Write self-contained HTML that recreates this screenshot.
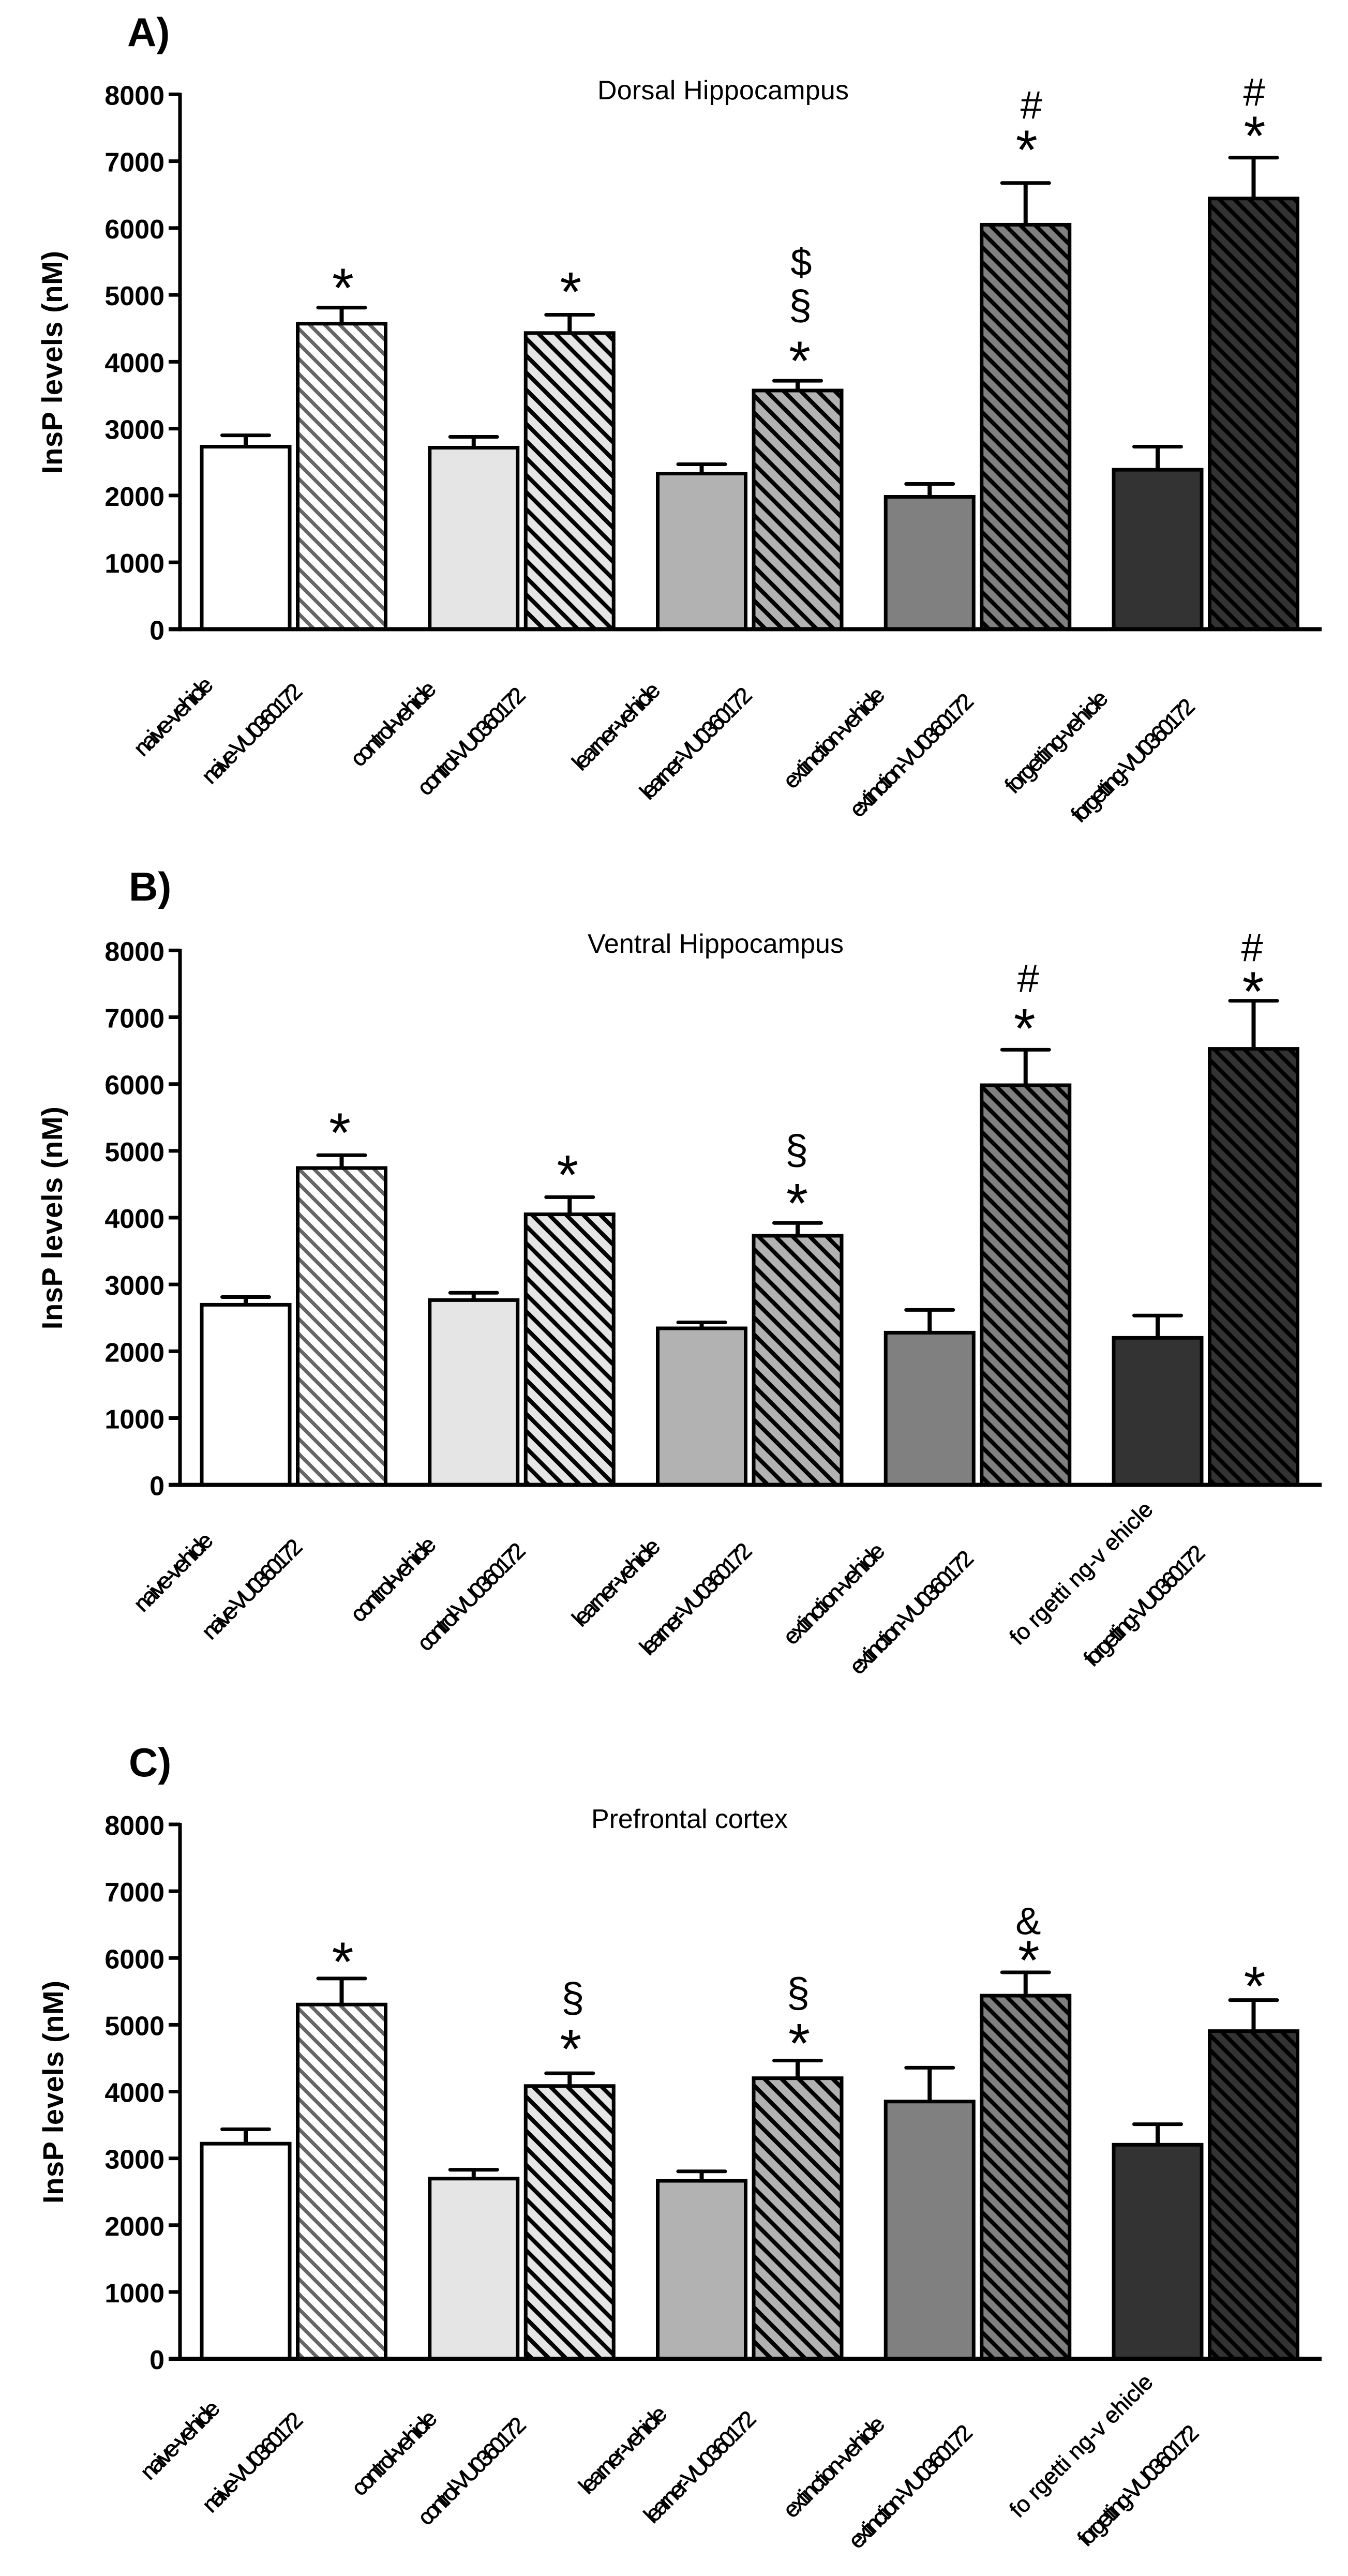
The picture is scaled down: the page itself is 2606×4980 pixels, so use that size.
<!DOCTYPE html>
<html lang="en">
<head>
<meta charset="utf-8">
<title>InsP levels by brain region</title>
<style>
  html, body { margin: 0; padding: 0; background: #fff; }
  svg { display: block; }
  text { font-family: "Liberation Sans", Arial, sans-serif; fill: #000; }
</style>
</head>
<body>
<svg id="figure" xmlns="http://www.w3.org/2000/svg" width="2606" height="4980" viewBox="0 0 2606 4980">
  <defs>
    <pattern id="hatch-0" patternUnits="userSpaceOnUse" width="29" height="29">
      <rect width="29" height="29" fill="#ffffff"/>
      <path d="M-6,-6 L35,35 M-35,-6 L6,35 M23,-6 L64,35" stroke="#666666" stroke-width="7"/>
    </pattern>
    <pattern id="hatch-1" patternUnits="userSpaceOnUse" width="33" height="33">
      <rect width="33" height="33" fill="#e5e5e5"/>
      <path d="M-6,-6 L39,39 M-39,-6 L6,39 M27,-6 L72,39" stroke="#000000" stroke-width="8"/>
    </pattern>
    <pattern id="hatch-2" patternUnits="userSpaceOnUse" width="33" height="33">
      <rect width="33" height="33" fill="#b2b2b2"/>
      <path d="M-6,-6 L39,39 M-39,-6 L6,39 M27,-6 L72,39" stroke="#000000" stroke-width="8"/>
    </pattern>
    <pattern id="hatch-3" patternUnits="userSpaceOnUse" width="29" height="29">
      <rect width="29" height="29" fill="#808080"/>
      <path d="M-6,-6 L35,35 M-35,-6 L6,35 M23,-6 L64,35" stroke="#000000" stroke-width="8"/>
    </pattern>
    <pattern id="hatch-4" patternUnits="userSpaceOnUse" width="29" height="29">
      <rect width="29" height="29" fill="#333333"/>
      <path d="M-6,-6 L35,35 M-35,-6 L6,35 M23,-6 L64,35" stroke="#000000" stroke-width="8"/>
    </pattern>
  </defs>
</svg>
<script>
// ---- chart data ----
const categories = ['naive-vehicle','naive-VU0360172','control-vehicle','control-VU0360172','learner-vehicle','learner-VU0360172','extinction-vehicle','extinction-VU0360172','forgetting-vehicle','forgetting-VU0360172'];
const yTickValues = [0,1000,2000,3000,4000,5000,6000,7000,8000];
const yTickLabels = ['0','1000','2000','3000','4000','5000','6000','7000','8000'];

const dorsalMeans = [2730,4570,2715,4430,2328,3570,1980,6050,2385,6442];
const dorsalSems  = [170,240,162,273,139,146,193,624,345,611];

const ventralMeans = [2696,4743,2766,4050,2343,3729,2278,5982,2201,6527];
const ventralSems  = [115,192,109,257,89,192,341,532,334,719];

const prefrontalMeans = [3220,5303,2697,4083,2664,4200,3851,5436,3204,4905];
const prefrontalSems  = [216,390,133,191,141,265,506,349,307,465];

// ---- layout (not data) ----
const SOLID_FILLS = ['#ffffff','#e5e5e5','#b2b2b2','#808080','#333333'];
const BAR_W = 170, CAP_W = 91, GROUP_PITCH = 440.75, PAIR_GAP = 185.5, FIRST_BAR = 475;
const AXIS_X = 348, TICK_X = 326, AXIS_END = 2555;
const SYMBOL_SIZE = { '*':108, '#':76, '§':80, '$':74, '&':74 };
const SYMBOL_CENTER = { '*':0.46, '#':0.358, '§':0.26, '$':0.33, '&':0.36 };

const dorsalLabelLayout = [[335,1385,195],[487,1418,253],[760,1399,212],[911,1433,274],[1191,1404,219],[1345,1437,285],[1612,1426,256],[1762,1460,317],[2042,1434,260],[2190,1470,317]];
const ventralLabelLayout = [[335,3039,195],[487,3072,253],[760,3053,212],[911,3087,274],[1191,3059,219],[1345,3091,285],[1612,3081,256],[1762,3117,317],[2090,3041,370],[2212,3104,310]];
const prefrontalLabelLayout = [[348,4717,195],[488,4760,253],[762,4742,212],[912,4777,274],[1204,4736,219],[1353,4769,285],[1612,4769,256],[1760,4807,317],[2090,4728,370],[2200,4805,310]];

const panels = [
  { key:'dorsal', letter:'A)', letterX:246, letterY:89, title:'Dorsal Hippocampus', titleX:1155, titleY:192, titleLen:486,
    yZero:1216.4, yTop:182.4, axisTitleX:120, axisTitleCenter:700.5,
    means:dorsalMeans, sems:dorsalSems, labels:dorsalLabelLayout,
    spacedLabel:null,
    marks:[[1,'*',2.5,51],[3,'*',2,57],[5,'*',4,51.5],[5,'§',5,140],[5,'$',7,228],[7,'*',2,77],[7,'#',11,152],[9,'*',2,55],[9,'#',1,128]] },
  { key:'ventral', letter:'B)', letterX:249, letterY:1741, title:'Ventral Hippocampus', titleX:1136, titleY:1842, titleLen:495,
    yZero:2870.6, yTop:1837.4, axisTitleX:120, axisTitleCenter:2354.7,
    means:ventralMeans, sems:ventralSems, labels:ventralLabelLayout,
    spacedLabel:'fo rgetti ng-v ehicle',
    marks:[[1,'*',-3.5,56.5],[3,'*',-4,56],[5,'*',-1,51],[5,'§',-2,135],[7,'*',-2,54],[7,'#',5,139],[9,'*',-1,31],[9,'#',-3,104]] },
  { key:'prefrontal', letter:'C)', letterX:249, letterY:3434, title:'Prefrontal cortex', titleX:1143, titleY:3534, titleLen:380,
    yZero:4560, yTop:3527, axisTitleX:122, axisTitleCenter:4044.5,
    means:prefrontalMeans, sems:prefrontalSems, labels:prefrontalLabelLayout,
    spacedLabel:'fo rgetti ng-v ehicle',
    marks:[[1,'*',2,45],[3,'*',2,60],[3,'§',6,140],[5,'*',3,46],[5,'§',1,125],[7,'*',6,36],[7,'&',5,100],[9,'*',2,40]] }
];

const svg = document.getElementById('figure');
const NS = 'http://www.w3.org/2000/svg';
function make(parent, tag, attrs, content) {
  const node = document.createElementNS(NS, tag);
  for (const k in attrs) node.setAttribute(k, attrs[k]);
  if (content !== undefined) node.textContent = content;
  parent.appendChild(node);
  return node;
}
function xScale(i) {
  return FIRST_BAR + Math.floor(i / 2) * GROUP_PITCH + (i % 2) * PAIR_GAP;
}

panels.forEach(function (p) {
  const y = function (v) { return p.yZero - (v / 8000) * (p.yZero - p.yTop); };

  const g = make(svg, 'g', {});
  
  

  const letter = make(g, 'text', { x:p.letterX, y:p.letterY, 'font-size':78, 'font-weight':'bold' }, p.letter);
  
  

  const title = make(g, 'text', { x:p.titleX, y:p.titleY, 'font-size':52, textLength:p.titleLen, lengthAdjust:'spacing' }, p.title);
  
  

  const axisTitle = make(g, 'text', {
    transform:'translate(' + p.axisTitleX + ' ' + p.axisTitleCenter + ') rotate(-90)',
    'text-anchor':'middle', 'font-size':56, 'font-weight':'bold', textLength:431, lengthAdjust:'spacing'
  }, 'InsP levels (nM)');
  
  

  // bars and error bars
  categories.forEach(function (cat, i) {
    const cx = xScale(i);
    const top = y(p.means[i]);
    const errTop = y(p.means[i] + p.sems[i]);
    const pair = Math.floor(i / 2);

    const stem = make(g, 'line', { x1:cx, x2:cx, y1:top, y2:errTop, stroke:'#000', 'stroke-width':8 });
    
    

    const cap = make(g, 'line', { x1:cx - CAP_W / 2, x2:cx + CAP_W / 2, y1:errTop, y2:errTop, stroke:'#000', 'stroke-width':7, 'stroke-linecap':'round' });
    
    

    const bar = make(g, 'rect', {
      x:cx - BAR_W / 2, y:top, width:BAR_W, height:p.yZero - top,
      fill:(i % 2 === 0) ? SOLID_FILLS[pair] : 'url(#hatch-' + pair + ')',
      stroke:'#000', 'stroke-width':7
    });
    
    

    const lay = p.labels[i];
    const isSpaced = (i === 8 && p.spacedLabel);
    const label = make(g, 'text', {
      x:lay[0], y:lay[1] + 15,
      transform:'rotate(-45 ' + lay[0] + ' ' + lay[1] + ')',
      'text-anchor':'middle', 'font-size':44, textLength:lay[2], lengthAdjust:'spacing',
      stroke:'#000', 'stroke-width':0.8
    }, isSpaced ? p.spacedLabel : cat);
    
    
  });

  // significance symbols, placed above each error cap
  p.marks.forEach(function (m) {
    const i = m[0], sym = m[1];
    const size = SYMBOL_SIZE[sym];
    const cy = y(p.means[i] + p.sems[i]) - m[3];
    const mark = make(g, 'text', {
      x:xScale(i) + m[2], y:cy + SYMBOL_CENTER[sym] * size,
      'text-anchor':'middle', 'font-size':size
    }, sym);
    
    
  });

  // axes
  const yAxis = make(g, 'line', { x1:AXIS_X, x2:AXIS_X, y1:p.yTop - 3, y2:p.yZero + 4, stroke:'#000', 'stroke-width':7 });
  
  

  const xAxis = make(g, 'line', { x1:TICK_X, x2:AXIS_END, y1:p.yZero, y2:p.yZero, stroke:'#000', 'stroke-width':8 });
  
  

  yTickValues.forEach(function (v, i) {
    const ty = y(v);
    if (v !== 0) {
      const tick = make(g, 'line', { x1:TICK_X, x2:AXIS_X, y1:ty, y2:ty, stroke:'#000', 'stroke-width':7 });
      
      
    }
    const tl = make(g, 'text', { x:318, y:ty + 20, 'text-anchor':'end', 'font-size':52, 'font-weight':'bold' }, yTickLabels[i]);
    
    
  });
});
</script>
</body>
</html>
